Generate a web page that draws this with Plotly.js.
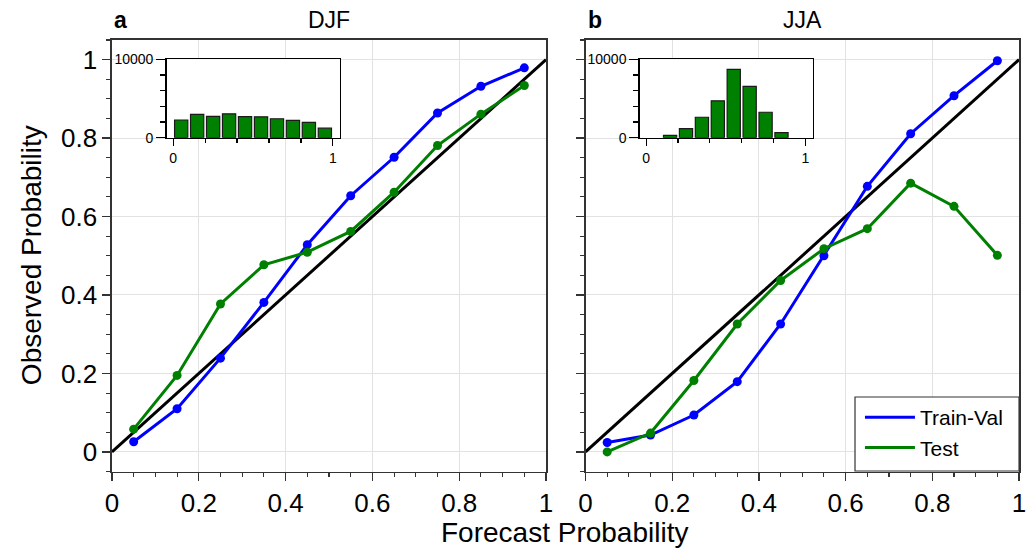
<!DOCTYPE html>
<html><head><meta charset="utf-8">
<script src="https://cdn.plot.ly/plotly-3.0.1.min.js"></script>
<style>html,body{margin:0;padding:0;background:#fff}#chart{width:1031px;height:550px}</style>
</head><body><div id="chart"></div>
<script>
// ---- data ----
const binCenters = [0.05, 0.15, 0.25, 0.35, 0.45, 0.55, 0.65, 0.75, 0.85, 0.95];
const djfTrainVal = [0.026, 0.110, 0.239, 0.381, 0.528, 0.653, 0.751, 0.864, 0.932, 0.979];
const djfTest     = [0.058, 0.195, 0.377, 0.477, 0.509, 0.562, 0.662, 0.781, 0.861, 0.934];
const jjaTrainVal = [0.024, 0.043, 0.094, 0.179, 0.326, 0.500, 0.677, 0.811, 0.908, 0.997];
const jjaTest     = [0.000, 0.048, 0.182, 0.326, 0.437, 0.518, 0.569, 0.685, 0.626, 0.501];
const djfCounts = [2260, 2985, 2730, 3050, 2690, 2670, 2420, 2200, 1950, 1220];
const jjaCounts = [null, 300, 1150, 2610, 4700, 8720, 6540, 3250, 650, null];
const diagonal = [0, 1];
const seriesNames = ['Train-Val', 'Test'];
const panelLabels = ['a', 'b'];
const panelTitles = ['DJF', 'JJA'];
const insetTickText = ['0', '10000'];

// ---- styles ----
const BLUE = '#0000ff', GREEN = '#008000', FRAME = '#333333';
const FONT = 'Liberation Sans, Arial, Helvetica, sans-serif';

function curve(x, y, color, xa, ya) {
  return {x: x, y: y, type: 'scatter', mode: 'lines+markers', xaxis: xa, yaxis: ya,
    line: {color: color, width: 3}, marker: {color: color, size: 9}, showlegend: false, hoverinfo: 'skip'};
}
function diag(xa, ya) {
  return {x: diagonal, y: diagonal, type: 'scatter', mode: 'lines', xaxis: xa, yaxis: ya,
    line: {color: '#000', width: 3}, showlegend: false, hoverinfo: 'skip'};
}
function hist(counts, xa, ya) {
  return {x: binCenters, y: counts, type: 'bar', xaxis: xa, yaxis: ya,
    marker: {color: GREEN, line: {color: '#1a1a1a', width: 1.2}}, showlegend: false, hoverinfo: 'skip'};
}

const data = [
  diag('x', 'y'),
  curve(binCenters, djfTrainVal, BLUE, 'x', 'y'),
  curve(binCenters, djfTest, GREEN, 'x', 'y'),
  diag('x2', 'y2'),
  curve(binCenters, jjaTrainVal, BLUE, 'x2', 'y2'),
  curve(binCenters, jjaTest, GREEN, 'x2', 'y2'),
  hist(djfCounts, 'x3', 'y3'),
  hist(jjaCounts, 'x4', 'y4'),
  {x: [null], y: [null], type: 'scatter', mode: 'lines', xaxis: 'x2', yaxis: 'y2', name: seriesNames[0], line: {color: BLUE, width: 3}},
  {x: [null], y: [null], type: 'scatter', mode: 'lines', xaxis: 'x2', yaxis: 'y2', name: seriesNames[1], line: {color: GREEN, width: 3}}
];

function mainAxis(range, domain, anchor, showLabels) {
  return {domain: domain, anchor: anchor, range: range, tick0: 0, dtick: 0.2,
    ticks: 'outside', ticklen: 8, tickwidth: 1.3, tickcolor: FRAME,
    showline: true, linecolor: FRAME, linewidth: 1.5, mirror: true,
    showgrid: true, gridcolor: '#e2e2e2', gridwidth: 1, zeroline: false,
    showticklabels: showLabels, tickfont: {size: 26, color: '#000'},
    minor: {dtick: 0.05, tick0: 0, ticks: 'outside', ticklen: 4, tickwidth: 1.1, tickcolor: FRAME, showgrid: false},
    fixedrange: true};
}
function insetX(domain, anchor) {
  return {domain: domain, anchor: anchor, range: [-0.042, 1.045], tickmode: 'array', tickvals: [0, 1], ticktext: ['0', '1'],
    ticks: 'outside', ticklen: 7, tickwidth: 1.2, tickcolor: '#000',
    showline: true, linecolor: '#000', linewidth: 1.3, mirror: true, showgrid: false, zeroline: false,
    tickfont: {size: 14, color: '#000'},
    minor: {tickvals: [0.2, 0.4, 0.6, 0.8], ticks: 'outside', ticklen: 4, tickwidth: 1.2, tickcolor: '#000', showgrid: false},
    fixedrange: true};
}
function insetY(domain, anchor) {
  return {domain: domain, anchor: anchor, range: [0, 10000], tickmode: 'array', tickvals: [0, 10000], ticktext: insetTickText,
    ticks: 'outside', ticklen: 9, tickwidth: 1.2, tickcolor: '#000',
    showline: true, linecolor: '#000', linewidth: 1.3, mirror: true, showgrid: false, zeroline: false,
    tickfont: {size: 14, color: '#000'}, ticklabelstandoff: 0,
    minor: {tickvals: [2000, 4000, 6000, 8000], ticks: 'outside', ticklen: 5, tickwidth: 1.2, tickcolor: '#000', showgrid: false},
    fixedrange: true};
}

const yMain = [0.1427, 0.9273];
const yInset = [0.7496, 0.8922];

const annotations = [
  {text: '<b>' + panelLabels[0] + '</b>', x: 0.1086, y: 0.9636, xanchor: 'left'},
  {text: panelTitles[0], x: (0.1086 + 0.5296) / 2, y: 0.9636, xanchor: 'center'},
  {text: '<b>' + panelLabels[1] + '</b>', x: 0.5679, y: 0.9636, xanchor: 'left'},
  {text: panelTitles[1], x: (0.5679 + 0.9884) / 2, y: 0.9636, xanchor: 'center'}
].map(a => Object.assign({xref: 'paper', yref: 'paper', yanchor: 'middle', showarrow: false, font: {size: 23, color: '#000'}}, a));
annotations.push({text: 'Forecast Probability', xref: 'paper', yref: 'paper', x: 0.548, y: 0.031, xanchor: 'center', yanchor: 'middle', showarrow: false, font: {size: 28, color: '#000'}});
annotations.push({text: 'Observed Probability', xref: 'paper', yref: 'paper', x: 0.030, y: 0.536, xanchor: 'center', yanchor: 'middle', textangle: -90, showarrow: false, font: {size: 28, color: '#000'}});

const layout = {
  width: 1031, height: 550,
  margin: {l: 0, r: 0, t: 0, b: 0, pad: 0},
  paper_bgcolor: '#fff', plot_bgcolor: '#fff',
  font: {family: FONT, color: '#000'},
  bargap: 0.17,
  xaxis: mainAxis([0, 1], [0.1086, 0.5296], 'y', true),
  yaxis: mainAxis([-0.05, 1.05], yMain, 'x', true),
  xaxis2: mainAxis([0, 1], [0.5679, 0.9884], 'y2', true),
  yaxis2: mainAxis([-0.05, 1.05], yMain, 'x2', false),
  xaxis3: insetX([0.1615, 0.3298], 'y3'),
  yaxis3: insetY(yInset, 'x3'),
  xaxis4: insetX([0.6203, 0.7881], 'y4'),
  yaxis4: insetY(yInset, 'x4'),
  showlegend: true,
  legend: {x: 0.8341, y: 0.278, xanchor: 'left', yanchor: 'top', bgcolor: 'rgba(0,0,0,0)', borderwidth: 0,
    font: {size: 21, color: '#000'}, tracegroupgap: 0, itemwidth: 50},
  shapes: [{type: 'rect', xref: 'paper', yref: 'paper', x0: 0.8293, x1: 0.9884, y0: 0.1436, y1: 0.2782,
    fillcolor: '#fff', line: {color: FRAME, width: 1.2}, layer: 'above'}],
  annotations: annotations
};

Plotly.newPlot('chart', data, layout, {staticPlot: true, displayModeBar: false});
</script></body></html>
